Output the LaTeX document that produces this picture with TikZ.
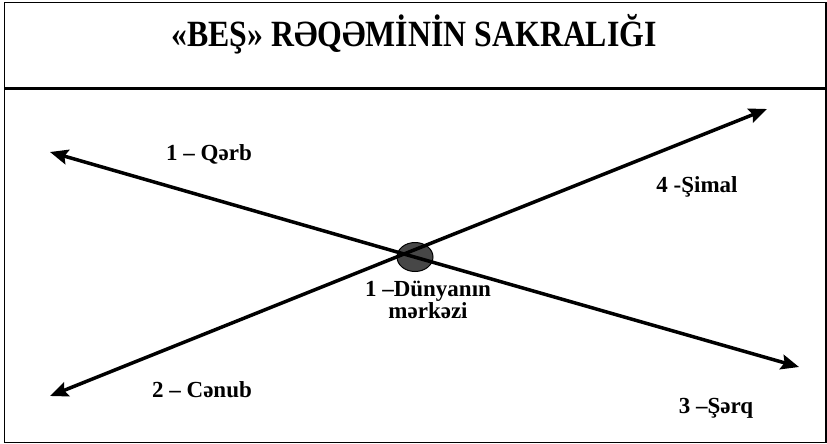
\documentclass[tikz,border=0pt]{standalone}
\usepackage{fontspec}
\setmainfont{Liberation Serif}
\usetikzlibrary{arrows.meta,shapes.geometric}
\begin{document}
\begin{tikzpicture}[x=1pt,y=-1pt,
  lbl/.style={anchor=base,font=\fontsize{23}{22}\selectfont\bfseries,inner sep=0pt},
  dirarrow/.style={line width=3.5pt,-{Stealth[length=18pt,width=15pt,inset=3pt]}},
  frame/.style={line width=1.5pt}]
\useasboundingbox (0,0) rectangle (827,444);
\draw[frame] (4.5,2.5) rectangle (826,442.5);
\draw[line width=3pt] (4.5,88) -- (826,88);
\node[anchor=base,inner sep=0pt,font=\fontsize{37}{39}\selectfont\bfseries] (title) at (414,47) {\scalebox{0.86}[1]{«BEŞ» RƏQƏMİNİN SAKRALIĞI}};
\node[ellipse,draw=black,line width=1pt,fill=black!72,minimum width=36pt,minimum height=29pt,inner sep=0pt] (c) at (415,257) {};
\coordinate (W) at (50,152);
\coordinate (E) at (799,367);
\coordinate (SW) at (50,396);
\coordinate (N) at (767,109);
\coordinate (X) at (404,254);
\draw[dirarrow] (X) -- (W);
\draw[dirarrow] (X) -- (E);
\draw[dirarrow] (X) -- (SW);
\draw[dirarrow] (X) -- (N);
\node[lbl] (qerb) at (209,160) {1 – Qərb};
\node[lbl] (cenub) at (202,397) {2 – Cənub};
\node[lbl] (simal) at (697,192) {4 -Şimal};
\node[lbl] (serq) at (716,413) {3 –Şərq};
\node[lbl,align=center] (merkez) at (428,318) {1 –Dünyanın\\mərkəzi};
\end{tikzpicture}
\end{document}
